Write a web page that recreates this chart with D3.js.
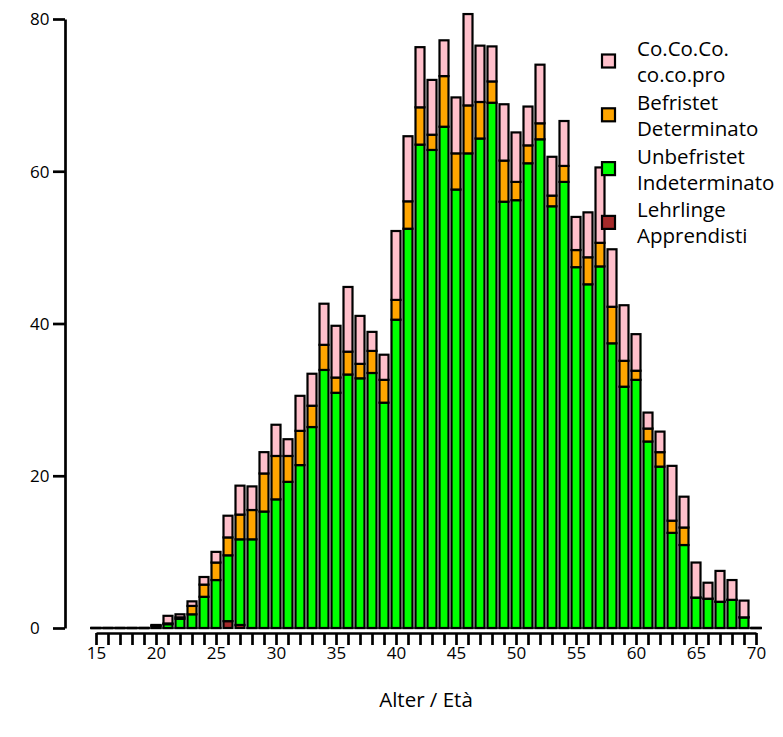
<!DOCTYPE html>
<html>
<head>
<meta charset="utf-8">
<script src="https://cdn.jsdelivr.net/npm/d3@7"></script>
<style>
  html, body { margin: 0; padding: 0; background: #fff; }
  svg { display: block; font-family: "Open Sans", "Noto Sans", sans-serif; }
</style>
</head>
<body>
<svg id="chart" width="783" height="737"></svg>
<script>
const ages = [15,16,17,18,19,20,21,22,23,24,25,26,27,28,29,30,31,32,33,34,35,36,37,38,39,40,
  41,42,43,44,45,46,47,48,49,50,51,52,53,54,55,56,57,58,59,60,61,62,63,64,65,66,67,68,69,70];

const lehrlinge = [0,0,0,0,0,0,0,0,0,0,0,0.9,0.4,0,0,0,0,0,0,0,0,0,0,0,0,0,
  0,0,0,0,0,0,0,0,0,0,0,0,0,0,0,0,0,0,0,0,0,0,0,0,0,0,0,0,0,0];

const unbefristet = [0,0,0,0,0,0.3,0.5,1.2,1.8,4.1,6.3,8.65,11.25,11.65,15.3,16.9,19.2,21.4,26.4,33.9,30.9,33.3,32.8,33.5,29.6,40.5,
  52.45,63.5,62.8,65.85,57.6,62.35,64.3,69.0,56.0,56.2,61.05,64.2,55.4,58.6,47.4,45.15,47.5,37.4,31.7,32.6,24.5,21.2,12.5,10.9,4.0,3.85,3.45,3.7,1.4,0];

const befristet = [0,0,0,0,0,0,0.1,0.2,1.1,1.6,2.3,2.35,3.25,3.85,5.0,5.7,3.4,4.5,2.8,3.3,2.0,3.0,1.9,2.9,3.0,2.6,
  3.6,4.9,2.0,6.65,4.75,6.3,4.8,2.8,5.4,2.4,2.35,2.1,1.4,2.1,2.25,3.55,3.1,4.8,3.4,1.2,1.7,1.9,1.6,2.3,0,0,0,0,0,0];

const cococo = [0,0,0,0,0,0.1,1.0,0.4,0.6,1.0,1.4,2.85,3.8,3.1,2.8,4.1,2.2,4.6,4.2,5.4,6.8,8.5,6.3,2.5,3.3,9.05,
  8.55,7.9,7.2,4.7,7.35,12.0,7.4,4.6,7.4,6.5,5.1,7.7,5.1,5.9,4.35,5.9,9.9,7.55,7.3,4.8,2.1,2.7,7.2,4.05,4.6,2.1,4.05,2.6,2.2,0];

const seriesKeys = ["lehrlinge", "unbefristet", "befristet", "cococo"];
const seriesColors = { lehrlinge: "#A52A2A", unbefristet: "#00FF00", befristet: "#FFA500", cococo: "#FFC0CB" };
const legendItems = [
  { key: "cococo", lines: ["Co.Co.Co.", "co.co.pro"] },
  { key: "befristet", lines: ["Befristet", "Determinato"] },
  { key: "unbefristet", lines: ["Unbefristet", "Indeterminato"] },
  { key: "lehrlinge", lines: ["Lehrlinge", "Apprendisti"] }
];
const yTicks = [0, 20, 40, 60, 80];
const xLabel = "Alter / Età";

const table = ages.map((a, i) => ({
  age: a,
  lehrlinge: lehrlinge[i],
  unbefristet: unbefristet[i],
  befristet: befristet[i],
  cococo: cococo[i]
}));

const svg = d3.select("#chart");
const x = d3.scaleLinear().domain([15, 70]).range([96, 756]);
const y = d3.scaleLinear().domain([0, 80]).range([628, 19]);

const stacked = d3.stack().keys(seriesKeys)(table);
const barW = 9;

svg.append("g").selectAll("g")
  .data(stacked)
  .join("g")
  .attr("fill", s => seriesColors[s.key])
  .selectAll("rect")
  .data(s => s)
  .join("rect")
  .attr("x", d => x(d.data.age) - barW / 2)
  .attr("width", barW)
  .attr("y", d => y(d[1]))
  .attr("height", d => Math.max(y(d[0]) - y(d[1]), 0.01))
  .attr("stroke", "#000")
  .attr("stroke-width", 2.2);

// Y axis
const yAxis = svg.append("g")
  .attr("transform", "translate(65,0)")
  .call(d3.axisLeft(y).tickValues(yTicks).tickSize(12).tickSizeOuter(0));
yAxis.select(".domain").attr("stroke-width", 2.7);
yAxis.selectAll(".tick line").attr("stroke-width", 2.7);
yAxis.selectAll(".tick text")
  .attr("font-size", 17)
  .attr("font-family", "Open Sans, sans-serif")
  .attr("text-anchor", "start")
  .attr("x", -35)
  .attr("dy", "0.35em");

// X axis
const xAxis = svg.append("g")
  .attr("transform", "translate(0,633)")
  .call(d3.axisBottom(x).tickValues(ages).tickSize(12).tickSizeOuter(0)
    .tickFormat(d => d % 5 === 0 ? String(d) : ""));
xAxis.select(".domain").attr("stroke-width", 2.7);
xAxis.selectAll(".tick line").attr("stroke-width", 2.7);
xAxis.selectAll(".tick text")
  .attr("font-size", 17)
  .attr("font-family", "Open Sans, sans-serif")
  .attr("y", 14)
  .attr("dy", "0.71em");

svg.append("text")
  .attr("x", (x(15) + x(70)) / 2)
  .attr("y", 707)
  .attr("text-anchor", "middle")
  .attr("font-size", 20.5)
  .text(xLabel);

// Legend
const lg = svg.append("g");
legendItems.forEach((it, i) => {
  const cy = 61 + i * 53.8;
  lg.append("rect")
    .attr("x", 602).attr("y", cy - 6.5)
    .attr("width", 13).attr("height", 13)
    .attr("fill", seriesColors[it.key])
    .attr("stroke", "#000").attr("stroke-width", 2.2);
  it.lines.forEach((t, j) => {
    lg.append("text")
      .attr("x", 637)
      .attr("y", cy - 5 + j * 26)
      .attr("font-size", 20.5)
      .text(t);
  });
});
</script>
</body>
</html>
